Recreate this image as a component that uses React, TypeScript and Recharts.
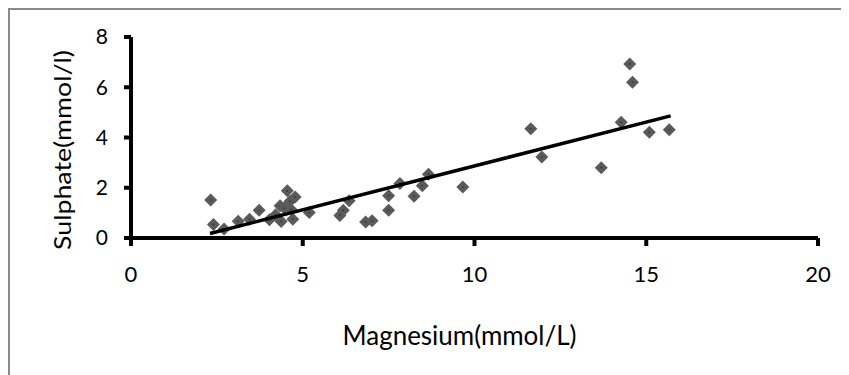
import React from "react";
import { ScatterChart, Scatter, XAxis, YAxis, Label } from "recharts";

const magnesium = [
  2.32, 2.4, 2.71, 3.12, 3.45, 3.73, 4.03, 4.21, 4.37, 4.34, 4.46, 4.55, 4.63,
  4.66, 4.71, 4.78, 5.19, 6.08, 6.18, 6.35, 6.83, 7.02, 7.5, 7.5, 7.83, 8.24,
  8.48, 8.66, 9.66, 11.64, 11.96, 13.69, 14.27, 14.52, 14.6, 15.09, 15.67,
];
const sulphate = [
  1.51, 0.54, 0.36, 0.67, 0.75, 1.1, 0.73, 0.93, 0.66, 1.28, 1.19, 1.88, 1.46,
  1.13, 0.75, 1.63, 1.01, 0.9, 1.1, 1.48, 0.64, 0.69, 1.68, 1.1, 2.17, 1.66,
  2.08, 2.54, 2.03, 4.35, 3.22, 2.8, 4.61, 6.93, 6.2, 4.21, 4.31,
];
const trendX = [2.3, 15.71];
const trendY = [0.18, 4.86];
const xTicks = [0, 5, 10, 15, 20];
const yTicks = [0, 2, 4, 6, 8];
const xTitle = "Magnesium(mmol/L)";
const yTitle = "Sulphate(mmol/l)";

const points = magnesium.map((m, i) => ({ x: m, y: sulphate[i] }));
const trend = trendX.map((x, i) => ({ x, y: trendY[i] }));

const FONT = "Lato, 'Open Sans', sans-serif";

const Diamond = (props: any) => {
  const { cx, cy } = props;
  if (cx == null || cy == null) return <g />;
  const r = 6.5;
  return (
    <g>
      <polygon
        points={`${cx},${cy - r} ${cx + r},${cy} ${cx},${cy + r} ${cx - r},${cy}`}
        fill="#5a5a5a"
      />
      <rect x={cx - 0.7} y={cy - 0.7} width={1.4} height={1.4} fill="#1f2a55" />
    </g>
  );
};

const NoShape = () => <g />;

const XTitle = (props: any) => {
  const vb = props.viewBox;
  const cx = vb.x + vb.width / 2 - 15;
  return (
    <text
      x={cx}
      y={335}
      textAnchor="middle"
      fontFamily={FONT}
      fontSize={27}
      fill="#000"
      strokeWidth={0}
      textLength={234}
      lengthAdjust="spacingAndGlyphs"
    >
      {xTitle}
    </text>
  );
};

const YTitle = () => {
  const cx = 52;
  const cy = 140;
  return (
    <text
      x={cx}
      y={cy}
      textAnchor="middle"
      dominantBaseline="central"
      transform={`rotate(-90, ${cx}, ${cy})`}
      fontFamily={FONT}
      fontSize={23}
      fill="#000"
      strokeWidth={0}
      textLength={200}
      lengthAdjust="spacingAndGlyphs"
    >
      {yTitle}
    </text>
  );
};

export default function App() {
  return (
    <div
      style={{
        width: 839,
        height: 365,
        borderTop: "2px solid #8a8a8a",
        borderLeft: "2px solid #8a8a8a",
        background: "#fff",
        overflow: "hidden",
      }}
    >
      <ScatterChart
        width={839}
        height={365}
        margin={{ top: 27, right: 31, bottom: 77, left: 61 }}
      >
        <XAxis
          type="number"
          dataKey="x"
          domain={[0, 20]}
          ticks={xTicks}
          interval={0}
          height={60}
          stroke="#000"
          strokeWidth={4}
          axisLine={{ stroke: "#000", strokeWidth: 4 }}
          tickLine={{ stroke: "#000", strokeWidth: 4 }}
          tickSize={8}
          tickMargin={20}
          tick={{ fill: "#000", fontSize: 22, fontFamily: FONT, strokeWidth: 0 }}
        >
          <Label content={<XTitle />} position="bottom" />
        </XAxis>
        <YAxis
          type="number"
          dataKey="y"
          domain={[0, 8]}
          ticks={yTicks}
          interval={0}
          width={60}
          stroke="#000"
          strokeWidth={4}
          axisLine={{ stroke: "#000", strokeWidth: 4 }}
          tickLine={{ stroke: "#000", strokeWidth: 4 }}
          tickSize={7}
          tickMargin={16}
          tick={{ fill: "#000", fontSize: 21, fontFamily: FONT, strokeWidth: 0 }}
        >
          <Label content={<YTitle />} position="left" />
        </YAxis>
        <Scatter data={points} shape={<Diamond />} isAnimationActive={false} />
        <Scatter
          data={trend}
          shape={<NoShape />}
          line={{ stroke: "#000", strokeWidth: 3.5 }}
          isAnimationActive={false}
          legendType="none"
        />
      </ScatterChart>
    </div>
  );
}
